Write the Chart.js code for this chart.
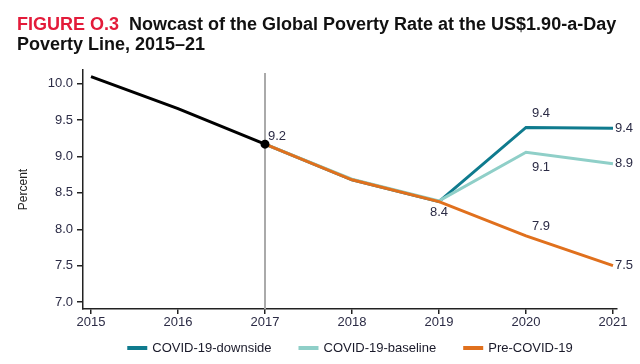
<!DOCTYPE html>
<html lang="en">
<head>
  <meta charset="UTF-8">
  <title>Nowcast of the Global Poverty Rate</title>
  <script src="https://cdn.jsdelivr.net/npm/chart.js"></script>
  <style>
    body { margin: 0; background: #fff; }
    #wrap { position: relative; width: 640px; height: 364px; }
    #title {
      position: absolute; left: 17px; top: 14px; width: 623px;
      font: bold 18px "Liberation Sans", Arial, sans-serif; line-height: 20px; color: #111;
      white-space: nowrap;
    }
    #title .fig { color: #e31b3a; margin-right: 5px; }
  </style>
</head>
<body>
  <div id="wrap">
    <div id="title"><span class="fig">FIGURE O.3</span> Nowcast of the Global Poverty Rate at the US$1.90-a-Day<br>Poverty Line, 2015–21</div>
    <canvas id="chart" width="640" height="364"></canvas>
  </div>

  <script>
    // years and values
    const histYears = [2015, 2016, 2017];
    const histValues = [10.1, 9.66, 9.17];
    const nowYears = [2017, 2018, 2019, 2020, 2021];
    const downside = [9.17, 8.68, 8.38, 9.40, 9.39];
    const baseline = [9.17, 8.69, 8.39, 9.06, 8.90];
    const preCovid = [9.17, 8.68, 8.38, 7.91, 7.50];
    const xTicks = [2015, 2016, 2017, 2018, 2019, 2020, 2021];
    const yTicks = [7.0, 7.5, 8.0, 8.5, 9.0, 9.5, 10.0];

    // value labels: [year, value, text, dx, dy, align]
    const valueLabels = [
      [2017, 9.17, "9.2", 3, -8, "left"],
      [2019, 8.38, "8.4", 0, 11, "center"],
      [2020, 9.40, "9.4", 6, -14, "left"],
      [2020, 9.06, "9.1", 6, 15, "left"],
      [2020, 7.91, "7.9", 6, -9, "left"],
      [2021, 9.39, "9.4", 2, 0, "left"],
      [2021, 8.90, "8.9", 2, 0, "left"],
      [2021, 7.50, "7.5", 2, 0, "left"]
    ];

    const toPoints = (xs, ys) => xs.map((x, i) => ({ x: x, y: ys[i] }));

    const fontFamily = "'Liberation Sans', Arial, sans-serif";
    const tickFont = { family: fontFamily, size: 13 };
    const tickColor = "#2b2b45";

    // 2017 marker line, value labels and the legend row
    const extras = {
      id: "extras",
      beforeDatasetsDraw(chart) {
        const { ctx, chartArea, scales } = chart;
        const x = scales.x.getPixelForValue(2017);
        ctx.save();
        ctx.strokeStyle = "#aaaaaa";
        ctx.lineWidth = 2;
        ctx.beginPath();
        ctx.moveTo(x, chartArea.top + 3);
        ctx.lineTo(x, chartArea.bottom);
        ctx.stroke();
        ctx.restore();
      },
      afterDatasetsDraw(chart) {
        const { ctx, scales } = chart;
        ctx.save();
        ctx.font = "13px " + fontFamily;
        ctx.fillStyle = tickColor;
        ctx.textBaseline = "middle";
        valueLabels.forEach(([yr, v, txt, dx, dy, align]) => {
          ctx.textAlign = align;
          ctx.fillText(txt, scales.x.getPixelForValue(yr) + dx, scales.y.getPixelForValue(v) + dy);
        });
        ctx.restore();
      },
      afterDraw(chart) {
        const { ctx, chartArea } = chart;
        const items = chart.data.datasets.slice(1);
        ctx.save();
        ctx.font = "13px " + fontFamily;
        const sw = 20, gap = 5, itemGap = 27;
        const widths = items.map(d => sw + gap + ctx.measureText(d.label).width);
        const total = widths.reduce((a, b) => a + b, 0) + itemGap * (items.length - 1);
        let x = (chartArea.left + chartArea.right) / 2 - total / 2;
        const y = 348;
        ctx.textBaseline = "middle";
        ctx.textAlign = "left";
        items.forEach((d, i) => {
          ctx.fillStyle = d.borderColor;
          ctx.fillRect(x, y - 2, sw, 4);
          ctx.fillStyle = "#1a1a2a";
          ctx.fillText(d.label, x + sw + gap, y);
          x += widths[i] + itemGap;
        });
        ctx.restore();
      }
    };

    new Chart(document.getElementById("chart"), {
      type: "line",
      data: {
        datasets: [
          {
            label: "history", data: toPoints(histYears, histValues),
            borderColor: "#000", backgroundColor: "#000", borderWidth: 3,
            pointRadius: [0, 0, 3], pointBackgroundColor: "#000", order: 0
          },
          {
            label: "COVID-19-downside", data: toPoints(nowYears, downside),
            borderColor: "#0f7b8e", backgroundColor: "#0f7b8e", borderWidth: 3,
            pointRadius: 0, order: 3
          },
          {
            label: "COVID-19-baseline", data: toPoints(nowYears, baseline),
            borderColor: "#8fcfc8", backgroundColor: "#8fcfc8", borderWidth: 3,
            pointRadius: 0, order: 2
          },
          {
            label: "Pre-COVID-19", data: toPoints(nowYears, preCovid),
            borderColor: "#e0701d", backgroundColor: "#e0701d", borderWidth: 3,
            pointRadius: 0, order: 1
          }
        ]
      },
      options: {
        responsive: false,
        animation: false,
        layout: { padding: { top: 70, right: 23, left: 16, bottom: 28 } },
        scales: {
          x: {
            type: "linear", min: 2014.908, max: 2021.046,
            afterBuildTicks: s => { s.ticks = xTicks.map(v => ({ value: v })); },
            afterFit: s => { s.height = 27; },
            grid: { drawOnChartArea: false, drawTicks: true, tickLength: 5, color: "#222", lineWidth: 1.5 },
            border: { color: "#222", width: 1.5 },
            ticks: { font: tickFont, color: tickColor, padding: 1, maxRotation: 0, callback: v => String(v) }
          },
          y: {
            min: 6.904, max: 10.19,
            afterBuildTicks: s => { s.ticks = yTicks.map(v => ({ value: v })); },
            afterFit: s => { s.width = 67; },
            grid: { drawOnChartArea: false, drawTicks: true, tickLength: 6, color: "#222", lineWidth: 1.5 },
            border: { color: "#222", width: 1.5 },
            title: {
              display: true, text: "Percent", color: "#222",
              font: { family: fontFamily, size: 12 },
              padding: { top: 0, bottom: 0 }
            },
            ticks: { font: tickFont, color: tickColor, padding: 4, callback: v => v.toFixed(1) }
          }
        },
        plugins: {
          legend: { display: false },
          tooltip: { enabled: false }
        }
      },
      plugins: [extras]
    });
  </script>
</body>
</html>
